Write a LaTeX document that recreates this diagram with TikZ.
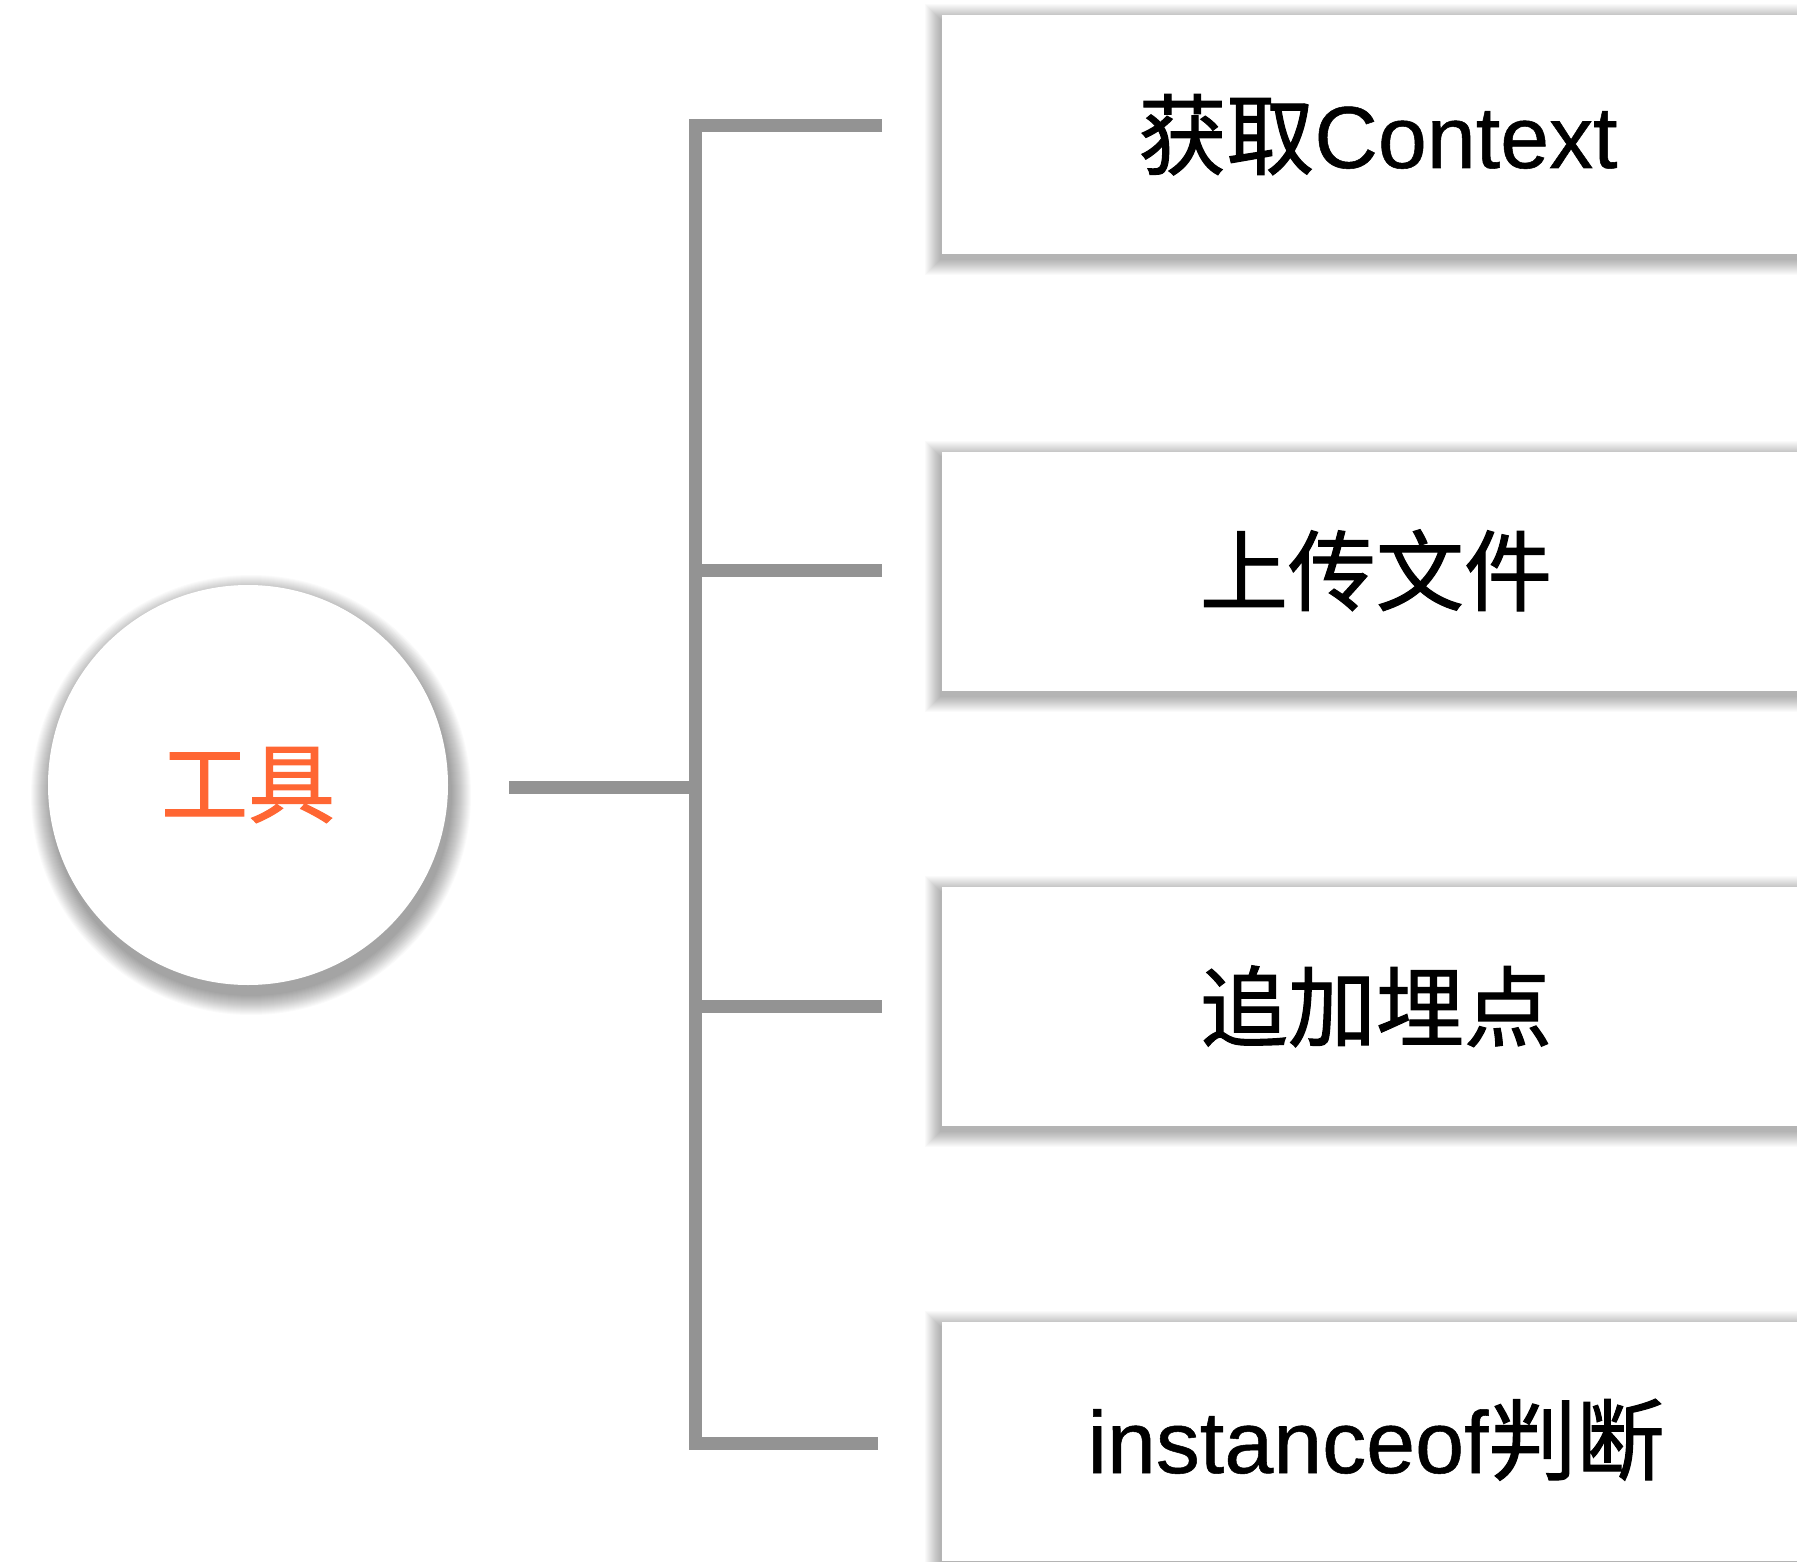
\documentclass[tikz,border=0pt]{standalone}
\usepackage{fontspec}
\setmainfont[FakeBold=0.6]{Liberation Sans}
\newfontfamily\cjk[FakeBold=1.2]{Noto Sans CJK SC}
\definecolor{linegray}{RGB}{147,147,147}
\definecolor{toolorange}{RGB}{255,102,51}
\begin{document}
\begin{tikzpicture}[x=1pt,y=-1pt,
  conn/.style={draw=linegray,line width=13pt,line join=miter,line cap=butt},
  shadowlayer/.style={fill=black,opacity=0.021},
  itembox/.style={fill=white,draw=none,minimum width=920pt,minimum height=239pt,
    anchor=north west,inner sep=0pt},
  lbl/.style={anchor=base,inner sep=0pt,text=black,font=\fontsize{88}{100}\selectfont},
  toolnode/.style={circle,fill=white,draw=none,minimum size=400pt,inner sep=0pt,
    text=toolorange,font=\fontsize{87}{100}\selectfont\cjk}]
\clip (0,0) rectangle (1797,1562);
\fill[white] (0,0) rectangle (1797,1562);

% soft shadows
\foreach \t in {15,451.5,887,1322}{
  \foreach \i in {1,...,16}{
    \fill[shadowlayer] (941-\i,\t+5-\i) rectangle (1861+\i,\t+244+\i);
  }
}
\foreach \i in {1,...,20}{
  \fill[shadowlayer] (251,795) circle[radius=200+\i];
}

% boxes
\node[itembox] (box1) at (942,15) {};
\node[itembox] (box2) at (942,451.5) {};
\node[itembox] (box3) at (942,887) {};
\node[itembox] (box4) at (942,1322) {};

% labels
\node[lbl] (lab1) at (1378,168) {{\cjk 获取}Context};
\node[lbl] (lab2) at (1376,604) {\cjk 上传文件};
\node[lbl] (lab3) at (1376,1040) {\cjk 追加埋点};
\node[lbl] (lab4) at (1376,1473) {instanceof{\cjk 判断}};

% root
\node[toolnode] (tool) at (248,785) {工具};

% connector points
\coordinate (rootend) at (509,787);
\coordinate (jroot) at (695.5,787);
\coordinate (jtop) at (695.5,126);
\coordinate (jb2) at (695.5,570);
\coordinate (jb3) at (695.5,1006);
\coordinate (jbot) at (695.5,1443);
\coordinate (e1) at (882,126);
\coordinate (e2) at (882,570);
\coordinate (e3) at (882,1006);
\coordinate (e4) at (877.5,1443);

\draw[conn] (e1) -- (jtop) -- (jbot) -- (e4);
\draw[conn] (jb2) -- (e2);
\draw[conn] (jb3) -- (e3);
\draw[conn] (rootend) -- (jroot);
\end{tikzpicture}
\end{document}
